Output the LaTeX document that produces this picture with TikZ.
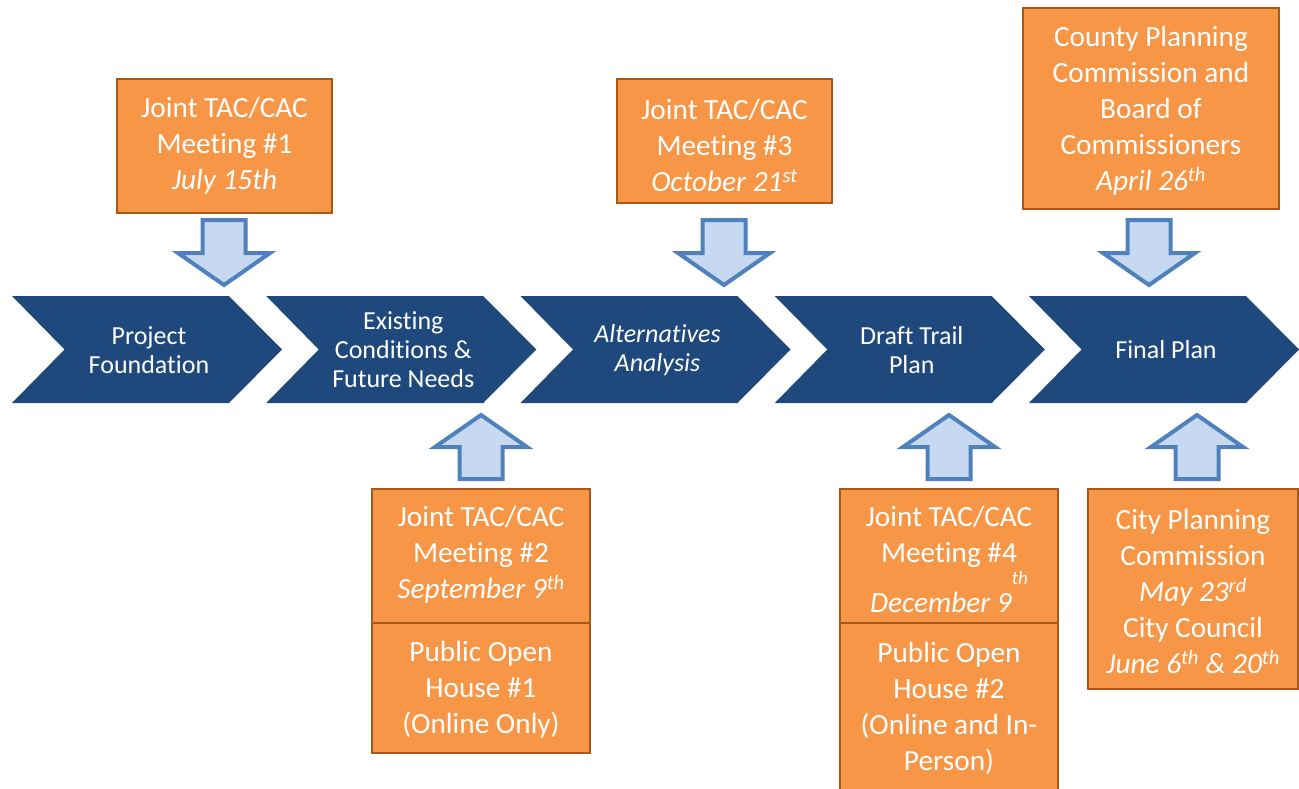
\documentclass[tikz,border=0pt]{standalone}
\usepackage{fontspec}
\setmainfont{Carlito}[RawFeature={-liga;-clig;-calt;-dlig}]
\newcommand\myti{t\kern0pt i}
\definecolor{chev}{HTML}{1F497D}
\definecolor{orfill}{HTML}{F79646}
\definecolor{ordraw}{HTML}{A8581A}
\definecolor{arfill}{HTML}{C6D9F1}
\definecolor{ardraw}{HTML}{4F81BD}
\tikzset{
  boxtxt/.style={text=white,align=center,inner sep=0pt,font=\fontsize{29.3}{36}\selectfont},
  chevtxt/.style={text=white,align=center,inner sep=0pt,font=\fontsize{26}{29}\selectfont},
  orbox/.style={fill=orfill,draw=ordraw,line width=2pt},
  blockarrow/.style={fill=arfill,draw=ardraw,line width=4pt,line join=miter},
  chevshape/.style={fill=chev,draw=none},
  downarr/.pic={\path[blockarrow] (-21.5,2) -- (21.5,2) -- (21.5,35) -- (46,35) -- (0,67) -- (-46,35) -- (-21.5,35) -- cycle;},
  uparr/.pic={\path[blockarrow] (-21.5,-2) -- (21.5,-2) -- (21.5,-34) -- (46,-34) -- (0,-66) -- (-46,-34) -- (-21.5,-34) -- cycle;}
}
\begin{document}
\begin{tikzpicture}[x=1pt,y=-1pt]
\useasboundingbox (0,0) rectangle (1299,788);
\clip (0,0) rectangle (1299,788);
% chevrons
\foreach \L in {12,266.25,520.5,774.75,1029}{
  \path[chevshape] (\L,296) -- (\L+217,296) -- (\L+270,349.5) -- (\L+217,403) -- (\L,403) -- (\L+52.5,349.5) -- cycle;
}
\node[chevtxt] (c1) at (149,350) {Project\\Foundation};
\node[chevtxt] (c2) at (403.25,350) {Exis\myti ng\\Condi\myti ons \&\\Future Needs};
\node[chevtxt] (c3) at (657.5,350) {\itshape Alterna\myti ves\\\itshape Analysis};
\node[chevtxt] (c4) at (911.75,350) {Draft Trail\\Plan};
\node[chevtxt] (c5) at (1166,350) {Final Plan};
% top boxes
\path[orbox] (117,79) rectangle (332,213);
\node[boxtxt] (b1) at (224.5,146) {Joint TAC/CAC\\Mee\myti ng \#1\\\textit{July 15th}};
\path[orbox] (617,79) rectangle (832,203);
\node[boxtxt] (b3) at (724.5,145) {Joint TAC/CAC\\Mee\myti ng \#3\\\textit{October 21\textsuperscript{st}}};
\path[orbox] (1023,8) rectangle (1279,209);
\node[boxtxt] (b5) at (1151,111) {County Planning\\Commission and\\Board of\\Commissioners\\\textit{April 26\textsuperscript{th}}};
% bottom boxes
\path[orbox] (372,489) rectangle (590,623);
\path[orbox] (372,623) rectangle (590,753);
\node[boxtxt] (b2a) at (481,555) {Joint TAC/CAC\\Mee\myti ng \#2\\\textit{September 9\textsuperscript{th}}};
\node[boxtxt] (b2b) at (481,690) {Public Open\\House \#1\\(Online Only)};
\path[orbox] (840,489) rectangle (1058,623);
\path[orbox] (840,623) rectangle (1058,800);
\node[boxtxt] (b4a) at (949,537) {Joint TAC/CAC\\Mee\myti ng \#4};
\node[boxtxt,anchor=base] (b4d) at (949,612) {\textit{December 9\raisebox{28pt}{\fontsize{19}{19}\selectfont th}}};
\node[boxtxt] (b4b) at (949,708) {Public Open\\House \#2\\(Online and In-\\Person)};
\path[orbox] (1088,489) rectangle (1298,689);
\node[boxtxt] (b6) at (1193,591) {City Planning\\Commission\\\textit{May 23\textsuperscript{rd}}\\City Council\\\textit{June 6\textsuperscript{th} \& 20\textsuperscript{th}}};
% block arrows
\pic at (224,218) {downarr};
\pic at (724,218) {downarr};
\pic at (1149,218) {downarr};
\pic at (481,481) {uparr};
\pic at (949,481) {uparr};
\pic at (1197,481) {uparr};
\end{tikzpicture}
\end{document}
